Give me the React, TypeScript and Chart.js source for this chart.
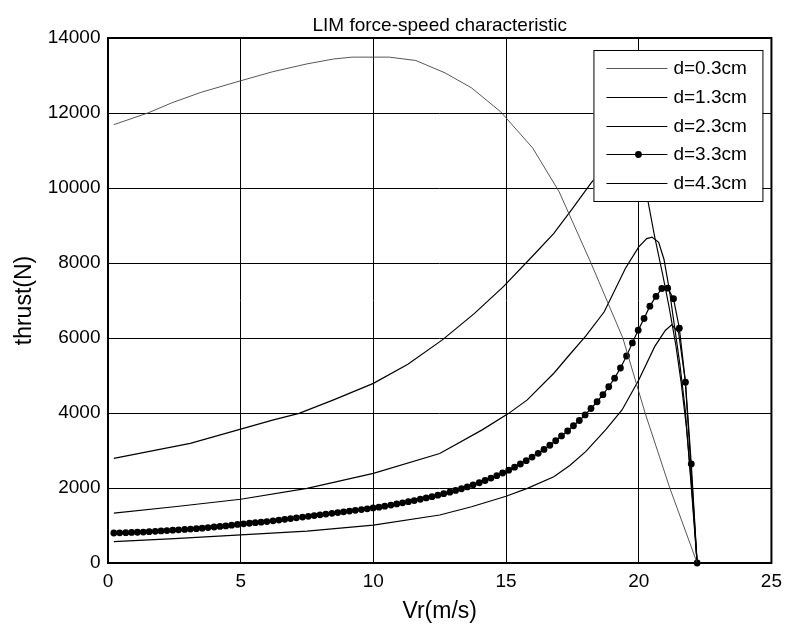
import React, { useEffect, useRef } from "react";
import { Chart, registerables } from "chart.js";

Chart.register(...registerables);

const chartTitle = "LIM force-speed characteristic";
const xAxisLabel = "Vr(m/s)";
const yAxisLabel = "thrust(N)";
const seriesLabels = ["d=0.3cm", "d=1.3cm", "d=2.3cm", "d=3.3cm", "d=4.3cm"];
const xTickValues = [0, 5, 10, 15, 20, 25];
const yTickValues = [0, 2000, 4000, 6000, 8000, 10000, 12000, 14000];

// d = 0.3 cm
const d03X = [0.22, 1.5, 2.4, 3.5, 5.0, 6.2, 7.5, 8.5, 9.2, 10.6, 11.6, 12.7, 13.7, 14.8, 16.0, 17.0, 18.2, 19.4, 20.24, 21.17, 22.2];
const d03Y = [11690, 12000, 12270, 12550, 12860, 13100, 13310, 13440, 13490, 13490, 13400, 13070, 12670, 12030, 11070, 9900, 8000, 6000, 4000, 2000, 0];

// d = 1.3 cm
const d13X = [0.22, 3.1, 5.0, 6.2, 7.2, 8.5, 10.0, 11.3, 12.6, 13.8, 14.9, 16.1, 16.8, 17.5, 18.2, 18.8, 19.3, 19.7, 20.0, 20.34, 20.6, 20.9, 21.15, 21.4, 21.6, 21.8, 22.0, 22.2];
const d13Y = [2790, 3190, 3570, 3810, 3990, 4350, 4790, 5300, 5950, 6650, 7370, 8260, 8790, 9450, 10130, 10650, 11000, 11150, 10850, 9680, 8700, 7700, 6800, 5800, 4800, 3600, 2000, 0];

// d = 2.3 cm
const d23X = [0.22, 2.5, 5.0, 7.5, 10.0, 12.5, 14.1, 15.1, 15.8, 16.8, 17.4, 18.0, 18.7, 19.5, 20.0, 20.3, 20.5, 20.75, 20.95, 21.15, 21.35, 21.55, 21.75, 21.95, 22.2];
const d23Y = [1330, 1500, 1700, 1990, 2390, 2920, 3550, 3990, 4350, 5060, 5560, 6050, 6700, 7860, 8430, 8650, 8690, 8550, 8100, 7300, 6300, 5300, 4100, 2300, 0];

// d = 3.3 cm (marked samples)
const d33X = [
  0.22, 0.44, 0.67, 0.89, 1.11, 1.33, 1.55, 1.78, 2.0, 2.22,
  2.44, 2.66, 2.89, 3.11, 3.33, 3.55, 3.77, 4.0, 4.22, 4.44,
  4.66, 4.88, 5.11, 5.33, 5.55, 5.77, 5.99, 6.22, 6.44, 6.66,
  6.88, 7.1, 7.33, 7.55, 7.77, 7.99, 8.21, 8.44, 8.66, 8.88,
  9.1, 9.32, 9.55, 9.77, 9.99, 10.21, 10.43, 10.66, 10.88, 11.1,
  11.32, 11.54, 11.77, 11.99, 12.21, 12.43, 12.65, 12.88, 13.1, 13.32,
  13.54, 13.76, 13.99, 14.21, 14.43, 14.65, 14.87, 15.1, 15.32, 15.54,
  15.76, 15.98, 16.21, 16.43, 16.65, 16.87, 17.09, 17.32, 17.54, 17.76,
  17.98, 18.2, 18.43, 18.65, 18.87, 19.09, 19.31, 19.54, 19.76, 19.98,
  20.2, 20.42, 20.65, 20.87, 21.09, 21.31, 21.53, 21.76, 21.98, 22.2,
];
const d33Y = [
  800, 805, 810, 815, 820, 825, 835, 845, 855, 865,
  875, 885, 895, 905, 915, 930, 945, 960, 975, 990,
  1010, 1030, 1045, 1060, 1075, 1090, 1105, 1125, 1145, 1165,
  1185, 1205, 1225, 1245, 1265, 1285, 1305, 1325, 1345, 1365,
  1385, 1405, 1425, 1445, 1470, 1490, 1515, 1545, 1575, 1605,
  1635, 1665, 1700, 1735, 1770, 1810, 1850, 1890, 1935, 1980,
  2030, 2085, 2140, 2200, 2265, 2330, 2400, 2475, 2555, 2640,
  2730, 2825, 2925, 3030, 3140, 3260, 3390, 3520, 3660, 3800,
  3950, 4120, 4300, 4490, 4700, 4930, 5200, 5520, 5870, 6210,
  6520, 6850, 7110, 7320, 7330, 7050, 6260, 4820, 2640, 0,
];

// d = 4.3 cm
const d43X = [0.22, 2.5, 5.0, 7.5, 10.0, 12.5, 13.7, 15.0, 15.8, 16.8, 17.4, 18.0, 18.75, 19.37, 20.0, 20.6, 21.0, 21.24, 21.5, 21.75, 22.0, 22.2];
const d43Y = [570, 650, 750, 850, 1010, 1280, 1500, 1780, 1990, 2300, 2600, 2970, 3550, 4080, 4880, 5770, 6200, 6350, 6150, 4880, 2200, 0];

const FONT = "'Liberation Sans', Arial, Helvetica, sans-serif";

const pairs = (xs: number[], ys: number[]) => xs.map((x, i) => ({ x, y: ys[i] }));

const framePlugin = {
  id: "frameAndLegend",
  afterDatasetsDraw(chart: any) {
    const { ctx, chartArea: a } = chart;
    ctx.save();
    // axes box
    ctx.strokeStyle = "#000";
    ctx.lineWidth = 2;
    ctx.strokeRect(a.left, a.top, a.right - a.left, a.bottom - a.top);

    // legend box (inside top-right)
    const boxW = 169;
    const boxH = 151;
    const x0 = a.right - 9 - boxW;
    const y0 = a.top + 12;
    ctx.fillStyle = "#fff";
    ctx.fillRect(x0, y0, boxW, boxH);
    ctx.lineWidth = 1;
    ctx.strokeStyle = "#000";
    ctx.strokeRect(x0 + 0.5, y0 + 0.5, boxW, boxH);

    const rowH = 28.6;
    chart.data.datasets.forEach((ds: any, i: number) => {
      const cy = Math.round(y0 + 18.3 + i * rowH) + 0.5;
      ctx.beginPath();
      ctx.strokeStyle = ds.borderColor;
      ctx.lineWidth = ds.borderWidth;
      ctx.moveTo(x0 + 13, cy);
      ctx.lineTo(x0 + 74, cy);
      ctx.stroke();
      if (ds.pointRadius > 0) {
        ctx.beginPath();
        ctx.fillStyle = ds.pointBackgroundColor;
        ctx.arc(x0 + 45, cy, ds.pointRadius, 0, Math.PI * 2);
        ctx.fill();
      }
      ctx.fillStyle = "#000";
      ctx.font = `19px ${FONT}`;
      ctx.textAlign = "left";
      ctx.textBaseline = "middle";
      ctx.fillText(ds.label, x0 + 80, cy);
    });
    ctx.restore();
  },
};

export default function App() {
  const canvasRef = useRef<HTMLCanvasElement | null>(null);

  useEffect(() => {
    if (!canvasRef.current) return;
    const lineStyle = (color: string, width: number) => ({
      borderColor: color,
      backgroundColor: color,
      borderWidth: width,
      pointRadius: 0,
      pointHoverRadius: 0,
      showLine: true,
      tension: 0,
      fill: false,
      clip: 8,
    });
    const chart = new Chart(canvasRef.current, {
      type: "scatter",
      data: {
        datasets: [
          { label: seriesLabels[0], data: pairs(d03X, d03Y), ...lineStyle("#444", 0.9) },
          { label: seriesLabels[1], data: pairs(d13X, d13Y), ...lineStyle("#000", 1.2) },
          { label: seriesLabels[2], data: pairs(d23X, d23Y), ...lineStyle("#000", 1.2) },
          {
            label: seriesLabels[3],
            data: pairs(d33X, d33Y),
            ...lineStyle("#000", 1.2),
            pointRadius: 3.4,
            pointBackgroundColor: "#000",
            pointBorderColor: "#000",
            pointBorderWidth: 0,
          },
          { label: seriesLabels[4], data: pairs(d43X, d43Y), ...lineStyle("#000", 1.2) },
        ],
      },
      options: {
        responsive: false,
        animation: false,
        devicePixelRatio: 1,
        layout: { padding: { left: 0, right: 12, top: 0, bottom: 0 } },
        plugins: {
          legend: { display: false },
          tooltip: { enabled: false },
          title: {
            display: true,
            text: chartTitle,
            fullSize: false,
            color: "#000",
            font: { family: FONT, size: 19, weight: "normal" },
            padding: { top: 14, bottom: 1.2 },
          },
        },
        scales: {
          x: {
            type: "linear",
            min: 0,
            max: 25,
            afterFit: (s: any) => {
              s.height = 63;
            },
            afterBuildTicks: (s: any) => {
              s.ticks = xTickValues.map((v) => ({ value: v }));
            },
            ticks: {
              color: "#000",
              font: { family: FONT, size: 19 },
              padding: 7,
              maxRotation: 0,
              callback: (v: any) => String(v),
            },
            grid: { color: "#000", lineWidth: 1, drawTicks: false },
            border: { display: false },
            title: {
              display: true,
              text: xAxisLabel,
              color: "#000",
              font: { family: FONT, size: 23 },
              padding: { top: 0, bottom: 0.5 },
            },
          },
          y: {
            type: "linear",
            min: 0,
            max: 14000,
            afterFit: (s: any) => {
              s.width = 108;
            },
            afterBuildTicks: (s: any) => {
              s.ticks = yTickValues.map((v) => ({ value: v }));
            },
            ticks: {
              color: "#000",
              font: { family: FONT, size: 19 },
              padding: 7.5,
              callback: (v: any) => String(v),
            },
            grid: { color: "#000", lineWidth: 1, drawTicks: false },
            border: { display: false },
            title: {
              display: true,
              text: yAxisLabel,
              color: "#000",
              font: { family: FONT, size: 23 },
              padding: { top: 10.7, bottom: 0 },
            },
          },
        },
      },
      plugins: [framePlugin],
    } as any);
    return () => chart.destroy();
  }, []);

  return (
    <div style={{ position: "fixed", left: 0, top: 0, width: 789, height: 626, background: "#fff" }}>
      <canvas ref={canvasRef} width={789} height={626} style={{ display: "block", width: 789, height: 626 }} />
    </div>
  );
}
